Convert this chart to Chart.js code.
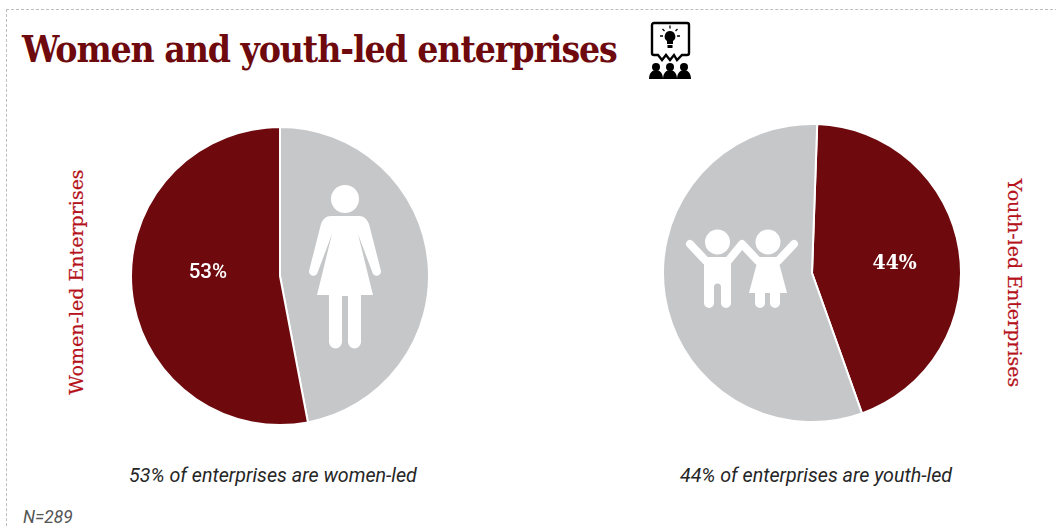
<!DOCTYPE html>
<html>
<head>
<meta charset="utf-8">
<style>
  html, body { margin: 0; padding: 0; background: #fff; }
  #page { position: relative; width: 1056px; height: 528px; overflow: hidden; }
  #frame { position: absolute; left: 6px; top: 9px; width: 1100px; height: 600px; border: 1px dashed #bdbdbd; }
  #title { position: absolute; left: 22px; top: 27px; font: bold 37px "DejaVu Serif Condensed", "DejaVu Serif", serif; letter-spacing: -1.1px; color: #6e0a0e; white-space: nowrap; }
  .pie { position: absolute; width: 300px; height: 300px; }
  .side { position: absolute; font: 19px "DejaVu Serif", serif; -webkit-text-stroke: 0.2px #b5121b; color: #b5121b; white-space: nowrap; }
  .cap { position: absolute; font: italic 19.7px Roboto, sans-serif; color: #262626; white-space: nowrap; transform: translateX(-50%); }
  #note { position: absolute; left: 23px; top: 507px; font: italic 17.4px Roboto, sans-serif; color: #555; }
  svg { position: absolute; overflow: visible; }
</style>
</head>
<body>
<div id="page">
  <div id="frame"></div>
  <div id="title">Women and youth-led enterprises</div>
  <div class="pie" style="left:130px;top:126px"><canvas id="womenPie"></canvas></div>
  <div class="pie" style="left:662px;top:123px"><canvas id="youthPie"></canvas></div>

  <div class="side" style="left:76px;top:282px;transform:translate(-50%,-50%) rotate(-90deg)">Women-led Enterprises</div>
  <div class="side" style="left:1015px;top:283px;transform:translate(-50%,-50%) rotate(90deg)">Youth-led Enterprises</div>

  <div class="cap" style="left:273px;top:464px">53% of enterprises are women-led</div>
  <div class="cap" style="left:816px;top:464px">44% of enterprises are youth-led</div>
  <div id="note">N=289</div>

  <!-- presentation icon beside the title -->
  <svg style="left:645px;top:18px" width="50" height="62" viewBox="0 0 50 62">
    <path d="M9 5h33a2 2 0 0 1 2 2v28a2 2 0 0 1-2 2h-5l-5 5-3-5-4 5-4-5-4 5-4-5H9a2 2 0 0 1-2-2V7a2 2 0 0 1 2-2z" fill="#fff" stroke="#000" stroke-width="2.4"/>
    <path d="M25 13a5.500 5.500 0 0 0-3 10v3h6v-3a5.500 5.500 0 0 0-3-10zM22.500 27h5v3h-5z" fill="#000"/>
    <path d="M25 7.500v3M17.500 11l2 2M32.500 11l-2 2M15 18h3M32 18h3" stroke="#000" stroke-width="1.300"/>
    <g fill="#000">
      <circle cx="11" cy="49" r="4"/><path d="M4 61c0-12 14-12 14 0z"/>
      <circle cx="25" cy="49" r="4"/><path d="M18 61c0-12 14-12 14 0z"/>
      <circle cx="39" cy="49" r="4"/><path d="M32 61c0-12 14-12 14 0z"/>
    </g>
  </svg>

  <!-- woman pictogram on the grey slice -->
  <svg style="left:290px;top:170px" width="110" height="190" viewBox="0 0 110 190" fill="#fff">
    <circle cx="55" cy="29" r="14"/>
    <path d="M41 46H69c5 0 8 3 10 8L91 101a4.500 4.500 0 0 1-8 3L68 64 83 125H71V172a6.500 6.500 0 0 1-13 0V126H52V172a6.500 6.500 0 0 1-13 0V125H27L42 64 27 104a4.500 4.500 0 0 1-8-3L31 54c2-5 5-8 10-8z"/>
  </svg>

  <!-- two children holding hands on the grey slice -->
  <svg style="left:670px;top:215px" width="140" height="105" viewBox="0 0 140 105" fill="#fff">
    <circle cx="47.500" cy="27" r="12.500"/>
    <circle cx="98" cy="27" r="12.500"/>
    <path d="M20 29L36 46H58L72 29 88 46H108L124 29" fill="none" stroke="#fff" stroke-width="8" stroke-linecap="round" stroke-linejoin="round"/>
    <path d="M34 44H61V88a5 5 0 0 1-10 0V72a3.500 3.500 0 0 0-7 0V88a5 5 0 0 1-10 0z"/>
    <path d="M88 44H108L117 78H79z"/>
    <path d="M85 76H95V88a5 5 0 0 1-10 0zM100 76H110V88a5 5 0 0 1-10 0z"/>
  </svg>
</div>

<script src="https://cdn.jsdelivr.net/npm/chart.js@4"></script>
<script>
var womenLabels = ["Other", "Women-led"];
var womenValues = [47, 53];
var womenColors = ["#c6c7c9", "#6e0a0e"];
var youthLabels = ["Youth-led", "Other"];
var youthValues = [44, 56];
var youthColors = ["#6e0a0e", "#c6c7c9"];

// writes the percentage on the dark slice
var percentLabel = {
  id: "percentLabel",
  afterDatasetsDraw: function (chart, args, opts) {
    var arc = chart.getDatasetMeta(0).data[opts.index];
    var pos = arc.tooltipPosition();
    var ctx = chart.ctx;
    ctx.save();
    ctx.fillStyle = "#fff";
    ctx.font = opts.font;
    ctx.textAlign = "center";
    ctx.textBaseline = "middle";
    ctx.fillText(chart.data.datasets[0].data[opts.index] + "%", pos.x + opts.dx, pos.y + opts.dy);
    ctx.restore();
  }
};

function makePie(id, labels, values, colors, rotation, labelOpts) {
  return new Chart(document.getElementById(id), {
    type: "pie",
    data: {
      labels: labels,
      datasets: [{ data: values, backgroundColor: colors, borderColor: "#fff", borderWidth: 2 }]
    },
    options: {
      responsive: true,
      maintainAspectRatio: false,
      animation: false,
      rotation: rotation,
      plugins: { legend: { display: false }, tooltip: { enabled: false }, percentLabel: labelOpts }
    },
    plugins: [percentLabel]
  });
}

makePie("womenPie", womenLabels, womenValues, womenColors, 0,
  { index: 1, dx: 2, dy: -10, font: "500 20.5px Roboto, sans-serif" });
makePie("youthPie", youthLabels, youthValues, youthColors, 2,
  { index: 0, dx: 9, dy: 2, font: "bold 21px 'DejaVu Serif Condensed', serif" });
</script>
</body>
</html>
